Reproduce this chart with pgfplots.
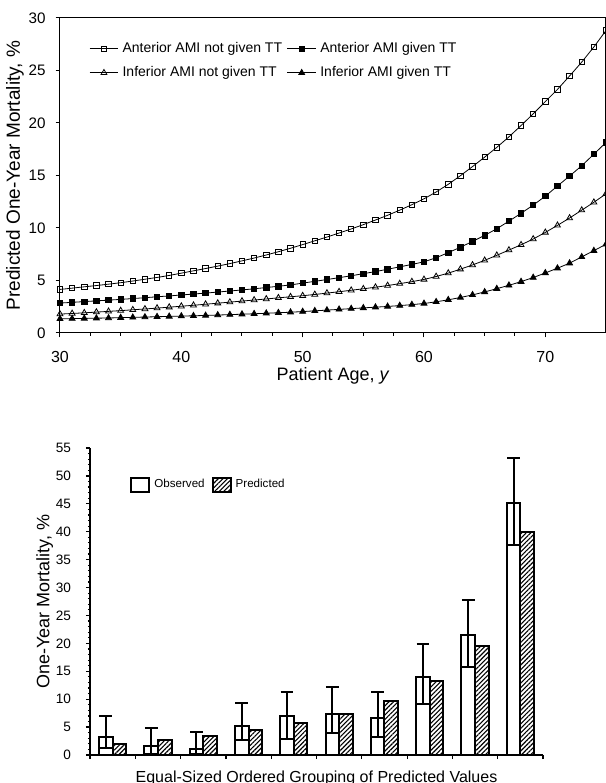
\documentclass[border=0pt]{standalone}
\usepackage{pgfplots}
\usepackage{pgfplotstable}
\pgfplotsset{compat=1.18}
\usepackage{fontspec}
\setmainfont{Liberation Sans}
\usetikzlibrary{patterns,patterns.meta}

\pgfplotstableread{
age  an     ag     in     ig
30   4.15   2.85   1.80   1.35
31   4.27   2.92   1.86   1.37
32   4.40   2.99   1.92   1.39
33   4.52   3.06   1.99   1.41
34   4.65   3.13   2.06   1.43
35   4.79   3.20   2.13   1.46
36   4.95   3.28   2.21   1.49
37   5.12   3.36   2.29   1.52
38   5.29   3.45   2.37   1.55
39   5.48   3.53   2.46   1.58
40   5.70   3.62   2.55   1.61
41   5.92   3.71   2.64   1.64
42   6.14   3.80   2.74   1.67
43   6.37   3.90   2.84   1.71
44   6.61   4.00   2.94   1.75
45   6.87   4.10   3.04   1.79
46   7.14   4.21   3.14   1.83
47   7.43   4.33   3.24   1.88
48   7.74   4.45   3.35   1.93
49   8.07   4.58   3.45   1.98
50   8.42   4.75   3.55   2.04
51   8.78   4.92   3.67   2.11
52   9.14   5.09   3.80   2.18
53   9.52   5.27   3.93   2.25
54   9.91   5.45   4.07   2.32
55  10.32   5.65   4.21   2.39
56  10.76   5.85   4.36   2.46
57  11.21   6.07   4.52   2.53
58  11.70   6.30   4.70   2.61
59  12.22   6.53   4.89   2.70
60  12.78   6.78   5.10   2.81
61  13.43   7.17   5.38   2.97
62  14.16   7.65   5.70   3.16
63  14.98   8.17   6.08   3.38
64  15.85   8.72   6.48   3.63
65  16.75   9.30   6.92   3.91
66  17.68   9.93   7.40   4.22
67  18.68  10.65   7.90   4.54
68  19.76  11.40   8.40   4.89
69  20.87  12.18   8.95   5.28
70  22.04  13.03   9.58   5.72
71  23.20  14.00  10.25   6.17
72  24.48  14.95  10.95   6.65
73  25.80  15.93  11.70   7.25
74  27.24  17.03  12.45   7.84
75  28.81  18.15  13.25   8.45
}\agetable

\pgfplotstableread{
x     obs   up    low   pred
0    3.3   6.9   1.3   1.9
1    1.6   4.9   0.2   2.6
2    1.0   4.2   0.1   3.4
3    5.2   9.4   2.6   4.5
4    6.9  11.3   2.8   5.7
5    7.3  12.2   3.9   7.4
6    6.7  11.2   3.3   9.6
7   14.0  19.8   9.2  13.2
8   21.5  27.8  15.7  19.6
9   45.1  53.2  37.7  40.0
}\bartable

\pgfplotstablecreatecol[expr={\thisrow{x}-0.15}]{xo}\bartable
\pgfplotstablecreatecol[expr={\thisrow{x}+0.15}]{xp}\bartable
\pgfplotstablecreatecol[expr={\thisrow{up}-\thisrow{obs}}]{eplus}\bartable
\pgfplotstablecreatecol[expr={\thisrow{obs}-\thisrow{low}}]{eminus}\bartable

\begin{document}
\begin{tikzpicture}
\path[use as bounding box] (0,0) rectangle (303pt,391.5pt);

% ---------- top chart ----------
\begin{axis}[
  at={(30pt,225pt)}, anchor=south west,
  scale only axis, width=273pt, height=157.5pt,
  xmin=30, xmax=75, ymin=0, ymax=30,
  xtick={30,40,50,60,70}, minor x tick num=3,
  ytick={0,5,...,30},
  tick pos=left,
  tick align=outside, major tick length=2.2pt, minor tick length=1.5pt,
  tick style={black, line width=0.5pt},
  axis line style={line width=0.5pt},
  /pgf/number format/assume math mode=true,
  xticklabel style={font=\fontsize{8}{9}\selectfont},
  yticklabel style={font=\fontsize{7.6}{9}\selectfont},
  xticklabel shift=3.5pt,
  yticklabel shift=1.5pt,
  xlabel={Patient Age, \textit{y}},
  ylabel={Predicted One-Year Mortality, \%},
  xlabel style={font=\fontsize{9}{11}\selectfont, at={(axis description cs:0.5,-0.137)}, anchor=center},
  ylabel style={font=\fontsize{9.5}{11}\selectfont, at={(axis description cs:-0.0824,0.5)}, anchor=center},
  legend style={at={(0.042,0.95)}, anchor=north west, draw=none, fill=none,
    font=\fontsize{7}{8}\selectfont, row sep=1.5pt,
    /tikz/every even column/.append style={column sep=0.5pt}},
  legend columns=2, legend cell align=left,
  legend image code/.code={\draw[mark repeat=2,mark phase=2,#1] plot coordinates {(0cm,0cm) (0.25cm,0cm) (0.5cm,0cm)};},
]
\addplot[black, line width=0.4pt, mark=square, mark size=1.35pt, mark options={fill=white, line width=0.4pt}] table[x=age,y=an] {\agetable};
\addlegendentry{Anterior AMI not given TT}
\addplot[black, line width=0.4pt, mark=square*, mark size=1.35pt, mark options={fill=black}] table[x=age,y=ag] {\agetable};
\addlegendentry{Anterior AMI given TT}
\addplot[black, line width=0.4pt, mark=triangle, mark size=1.7pt, mark options={fill=white, line width=0.4pt}] table[x=age,y=in] {\agetable};
\addlegendentry{Inferior AMI not given TT}
\addplot[black, line width=0.4pt, mark=triangle*, mark size=1.7pt, mark options={fill=black}] table[x=age,y=ig] {\agetable};
\addlegendentry{Inferior AMI given TT}
\end{axis}

% ---------- bottom chart ----------
\begin{axis}[
  at={(45pt,14pt)}, anchor=south west,
  scale only axis, width=226.5pt, height=153.5pt,
  xmin=-0.5, xmax=9.5, ymin=0, ymax=55,
  axis x line*=bottom, axis y line*=left,
  xtick={-0.5,0.5,...,9.5}, xticklabels={},
  ytick={0,5,...,55}, minor y tick num=4,
  tick align=outside, major tick length=2pt, minor tick length=1pt,
  tick style={black, line width=0.6pt},
  axis line style={line width=0.8pt},
  /pgf/number format/assume math mode=true,
  yticklabel style={font=\fontsize{6.8}{8}\selectfont},
  yticklabel shift=4pt,
  xlabel={Equal-Sized Ordered Grouping of Predicted Values},
  ylabel={One-Year Mortality, \%},
  xlabel style={font=\fontsize{8}{9}\selectfont, at={(axis description cs:0.5,0)}, anchor=north, yshift=-4.5pt},
  ylabel style={font=\fontsize{9}{11}\selectfont, at={(axis description cs:-0.1,0.5)}, anchor=center},
  legend style={at={(0.075,0.925)}, anchor=north west, draw=none, fill=none,
    font=\fontsize{5.8}{7}\selectfont,
    /tikz/every even column/.append style={column sep=1.5pt}},
  legend columns=2,
  legend image code/.code={\draw[#1] (0pt,-3.6pt) rectangle (9pt,3.6pt);},
]
\addplot[ybar, bar width=0.3, bar shift=0pt, draw=black, line width=1pt, fill=white] table[x=xo,y=obs] {\bartable};
\addlegendentry{Observed}
\addplot[ybar, bar width=0.3, bar shift=0pt, draw=black, line width=1pt,
  pattern={Lines[angle=45, distance=1.6pt, line width=0.55pt]}] table[x=xp,y=pred] {\bartable};
\addlegendentry{Predicted}
\addplot[forget plot, draw=none, no marks,
  error bars/.cd, y dir=plus, y explicit,
  error bar style={draw=black, line width=1pt},
  error mark options={rotate=90, mark size=3.2pt, line width=1pt, draw=black}]
  table[x=xo, y=obs, y error=eplus] {\bartable};
\addplot[forget plot, draw=none, no marks,
  error bars/.cd, y dir=minus, y explicit,
  error bar style={draw=black, line width=1pt},
  error mark options={rotate=90, mark size=3.4pt, line width=1pt, draw=black}]
  table[x=xo, y=obs, y error=eminus] {\bartable};
\end{axis}
\end{tikzpicture}
\end{document}
